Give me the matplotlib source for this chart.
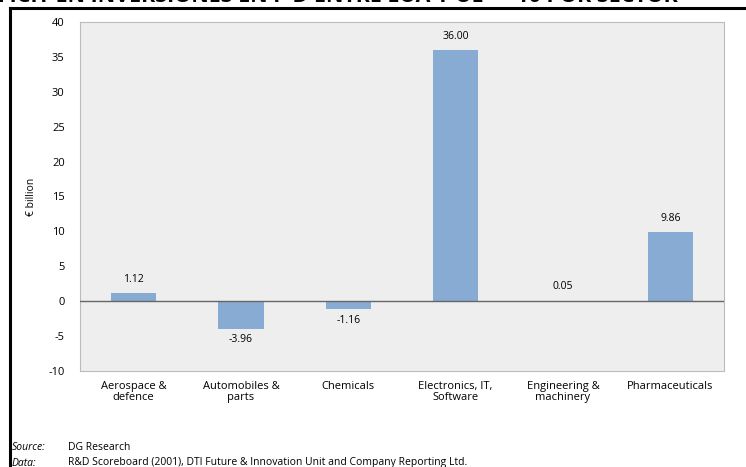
import matplotlib
matplotlib.use("Agg")
import matplotlib.pyplot as plt
import numpy as np

categories = ["Aerospace &\ndefence", "Automobiles &\nparts", "Chemicals",
              "Electronics, IT,\nSoftware", "Engineering &\nmachinery", "Pharmaceuticals"]
values = [1.12, -3.96, -1.16, 36.00, 0.05, 9.86]
yticks = [-10, -5, 0, 5, 10, 15, 20, 25, 30, 35, 40]

BAR = "#87abd2"
BG = "#eeeeee"
W, H = 746, 467

plt.rcParams["font.family"] = ["Open Sans", "DejaVu Sans"]
fig = plt.figure(figsize=(W / 100, H / 100), dpi=100)
fig.patch.set_facecolor("white")

# frame lines of the page
fig.add_artist(plt.Line2D([10 / W, 10 / W], [0, 1 - 8 / H], color="black", lw=2.2))
fig.add_artist(plt.Line2D([10 / W, 1], [1 - 8 / H, 1 - 8 / H], color="black", lw=2.2))

# title, cut off by the top edge as in the scanned page
fig.text(-30 / W, 1 + 3 / H, "DÉFICIT EN INVERSIONES EN I+D ENTRE EUA Y UE — 10 POR SECTOR",
         fontsize=15.5, fontweight="bold", ha="left", va="center")

ax = fig.add_axes([80 / W, 1 - 371 / H, (724 - 80) / W, (371 - 22) / H])
ax.set_facecolor(BG)
x = np.arange(len(values))
ax.bar(x, values, width=0.42, color=BAR, zorder=3)
ax.axhline(0, color="#666666", lw=1.0, zorder=4)
for xi, v in zip(x, values):
    if v >= 0:
        ax.text(xi, v + 1.2, f"{v:.2f}", ha="center", va="bottom", fontsize=7.5)
    else:
        ax.text(xi, v - 0.8, f"{v:.2f}", ha="center", va="top", fontsize=7.5)

ax.set_xlim(-0.5, len(values) - 0.5)
ax.set_ylim(-10, 40)
ax.set_yticks(yticks)
ax.set_yticklabels([str(t) for t in yticks], fontsize=8)
ax.set_xticks(x)
ax.set_xticklabels(categories, fontsize=8, linespacing=1.0)
ax.tick_params(length=0)
ax.tick_params(axis="y", pad=11)
ax.tick_params(axis="x", pad=7)
for s in ax.spines.values():
    s.set_color("#bbbbbb")
    s.set_linewidth(0.8)
ax.set_ylabel("€ billion", fontsize=7.5, labelpad=8)

fig.text(12 / W, 1 - 448 / H, "Source:", fontsize=7.5, style="italic", va="center")
fig.text(68 / W, 1 - 448 / H, "DG Research", fontsize=7.5, va="center")
fig.text(12 / W, 1 - 463 / H, "Data:", fontsize=7.5, style="italic", va="center")
fig.text(68 / W, 1 - 463 / H,
         "R&D Scoreboard (2001), DTI Future & Innovation Unit and Company Reporting Ltd.",
         fontsize=7.5, va="center")

fig.savefig("out.png", dpi=100)
